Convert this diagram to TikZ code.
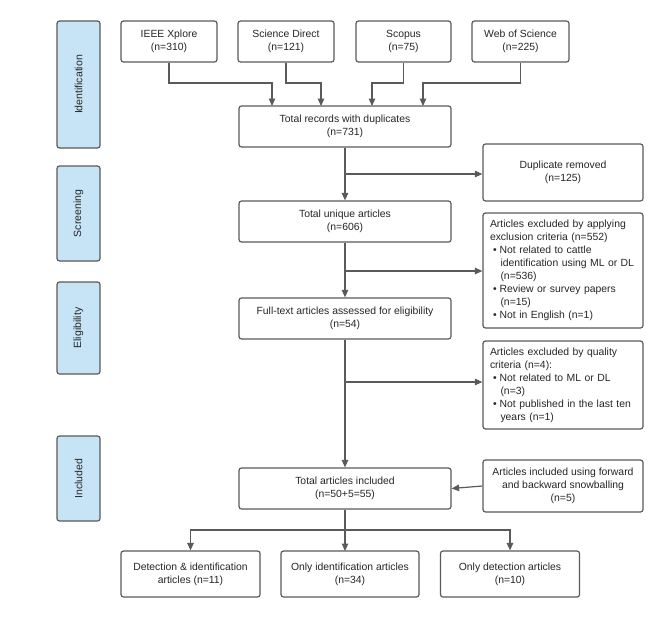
\documentclass[tikz,border=0pt]{standalone}
\usepackage{fontspec}
\setmainfont{Liberation Sans}
\usetikzlibrary{arrows.meta}
\definecolor{edge}{HTML}{5A5A5A}
\definecolor{phase}{HTML}{C6E4F6}
\newcommand\bul{\hspace*{3pt}\textbullet\hspace{3pt}}
\newcommand\ind{\hspace*{10.5pt}}
\tikzset{
  x=1pt, y=-1pt,
  box/.style={draw=edge, line width=1.2pt, rounded corners=2.5pt, fill=white,
    align=center, inner sep=2pt, font=\fontsize{10.4}{13}\selectfont, text=black!85},
  listbox/.style={box, align=left, text width=146pt, inner xsep=7pt},
  phasebox/.style={draw=edge, line width=1.2pt, rounded corners=2.5pt, fill=phase,
    minimum width=43pt, font=\fontsize{10.5}{12}\selectfont, text=black!85},
  conn/.style={draw=edge, line width=1.2pt},
  arr/.style={conn, -{Triangle[width=6.5pt,length=7.5pt]}},
}
\begin{document}
\begin{tikzpicture}
\useasboundingbox (0,0) rectangle (664,618);
% phase labels
\node[phasebox, minimum height=127pt] (pid) at (78.5,84.5) {\rotatebox{90}{Identification}};
\node[phasebox, minimum height=95pt] (psc) at (78.5,213.5) {\rotatebox{90}{Screening}};
\node[phasebox, minimum height=92pt] (pel) at (78.5,328) {\rotatebox{90}{Eligibility}};
\node[phasebox, minimum height=85pt] (pin) at (78.5,478.5) {\rotatebox{90}{Included}};
% sources
\node[box, minimum width=96pt, minimum height=41pt] (ieee) at (169,41.5) {IEEE Xplore\\(n=310)};
\node[box, minimum width=96pt, minimum height=41pt] (sd) at (286,41.5) {Science Direct\\(n=121)};
\node[box, minimum width=95pt, minimum height=41pt] (sco) at (403.5,41.5) {Scopus\\(n=75)};
\node[box, minimum width=97pt, minimum height=41pt] (wos) at (520.5,41.5) {Web of Science\\(n=225)};
% main column
\node[box, minimum width=212pt, minimum height=41pt] (tot) at (345,126.5) {Total records with duplicates\\(n=731)};
\node[box, minimum width=212pt, minimum height=41pt] (uniq) at (345,221.5) {Total unique articles\\(n=606)};
\node[box, minimum width=212pt, minimum height=41pt] (full) at (345,318.5) {Full-text articles assessed for eligibility\\(n=54)};
\node[box, minimum width=212pt, minimum height=41pt] (inc) at (345,488.5) {Total articles included\\(n=50+5=55)};
% side boxes
\node[box, minimum width=160pt, minimum height=57pt] (dup) at (563,172.5) {Duplicate removed\\(n=125)};
\node[listbox, minimum height=115pt] (excl) at (563,270.5) {Articles excluded by applying\\exclusion criteria (n=552)\\
\bul Not related to cattle\\\ind identification using ML or DL\\\ind (n=536)\\
\bul Review or survey papers\\\ind (n=15)\\\bul Not in English (n=1)};
\node[listbox, minimum height=88pt] (qual) at (563,385) {Articles excluded by quality\\criteria (n=4):\\
\bul Not related to ML or DL\\\ind (n=3)\\\bul Not published in the last ten\\\ind years (n=1)};
\node[box, minimum width=160pt, minimum height=52pt] (snow) at (563,486) {Articles included using forward\\and backward snowballing\\(n=5)};
% results
\node[box, minimum width=139pt, minimum height=46pt] (det) at (190.5,574) {Detection \& identification\\articles (n=11)};
\node[box, minimum width=138pt, minimum height=46pt] (onlyid) at (350,574) {Only identification articles\\(n=34)};
\node[box, minimum width=139pt, minimum height=46pt] (onlydet) at (510,574) {Only detection articles\\(n=10)};
% connectors from sources
\draw[arr] (ieee.south) |- (169,83) -| (272,106);
\draw[arr] (sd.south) |- (287,83) -| (321,106);
\draw[arr] (sco.south) |- (403,83) -| (372,106);
\draw[arr] (wos.south) |- (521,83) -| (423,106);
% main flow
\draw[arr] (tot.south) -- (uniq.north);
\coordinate (b1) at (345,174);
\draw[arr] (b1) -- (b1 -| dup.west);
\draw[arr] (uniq.south) -- (full.north);
\coordinate (b2) at (345,271);
\draw[arr] (b2) -- (b2 -| excl.west);
\draw[arr] (full.south) -- (inc.north);
\coordinate (b3) at (345,382);
\draw[arr] (b3) -- (b3 -| qual.west);
\draw[arr] (snow.west) -- (inc.east);
% split
\coordinate (sp) at (345,530);
\draw[conn] (inc.south) -- (sp);
\draw[arr] (sp) -- (345,551);
\draw[arr] (sp) -| (det.north);
\draw[arr] (sp) -| (onlydet.north);
\end{tikzpicture}
\end{document}
